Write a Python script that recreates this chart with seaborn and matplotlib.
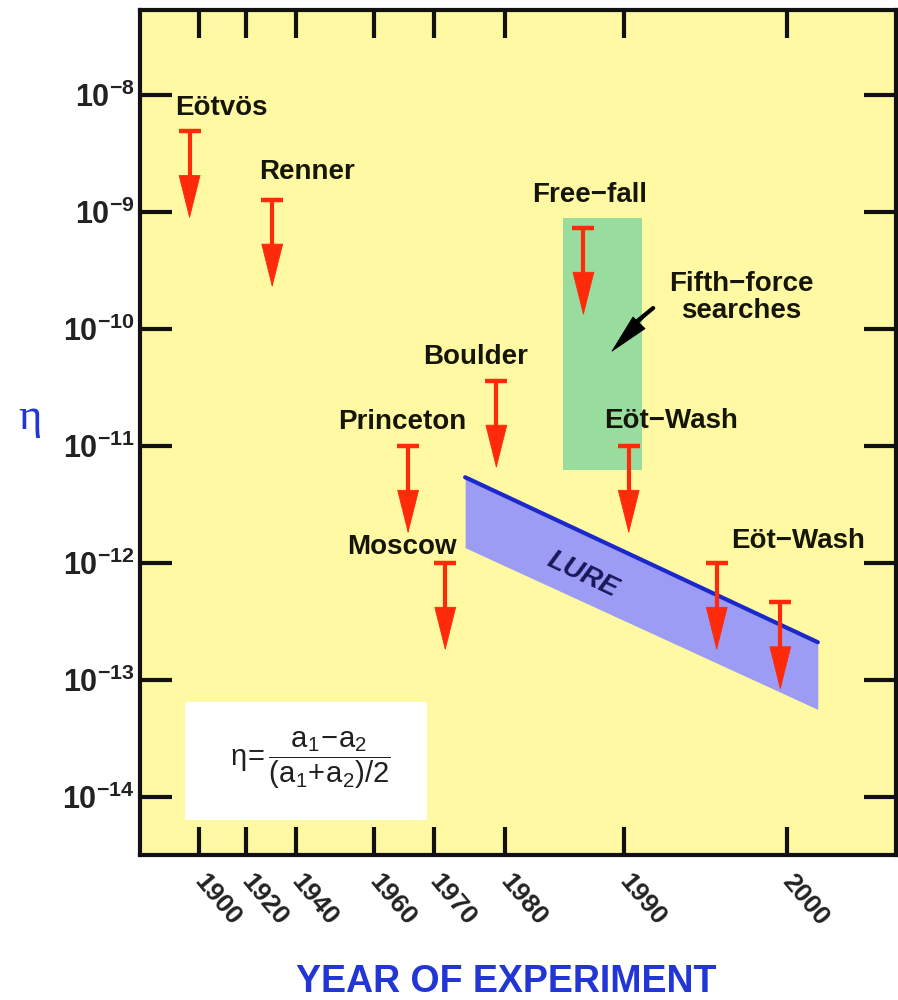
import numpy as np
import seaborn as sns
import matplotlib.pyplot as plt
from matplotlib.patches import Rectangle
from matplotlib.ticker import NullLocator
from matplotlib.transforms import ScaledTranslation

# upper limits on eta, one arrow per experiment
names = ['Eötvös', 'Renner', 'Princeton', 'Moscow', 'Boulder', 'Free−fall', 'Eöt−Wash', 'Eöt−Wash', 'Eöt−Wash']
years = [1896.0, 1930.5, 1965.7, 1971.6, 1978.8, 1986.6, 1990.3, 1995.7, 1999.6]
eta_limits = [4.9e-9, 1.27e-9, 1.0e-11, 1.0e-12, 3.6e-11, 7.3e-10, 1.0e-11, 1.0e-12, 4.6e-13]

# LURE band (start and end of the projection)
lure_years = [1974.4, 2001.9]
lure_top = [5.4e-12, 2.1e-13]
lure_bottom = [1.35e-12, 5.6e-14]

# fifth-force searches region
fifth_years = [1984.9, 1991.1]
fifth_eta = [6.2e-12, 8.9e-10]

tick_years = [1900, 1920, 1940, 1960, 1970, 1980, 1990, 2000]
eta_ticks = [1e-8, 1e-9, 1e-10, 1e-11, 1e-12, 1e-13, 1e-14]
eta_ticklabels = [r'$\mathbf{10^{-8}}$', r'$\mathbf{10^{-9}}$', r'$\mathbf{10^{-10}}$', r'$\mathbf{10^{-11}}$',
                  r'$\mathbf{10^{-12}}$', r'$\mathbf{10^{-13}}$', r'$\mathbf{10^{-14}}$']

# the year axis of the original is stretched unevenly -> piecewise spacing knots
knot_years = [1850, 1900, 1920, 1940, 1960, 1970, 1980, 1990, 2000, 2050]
knot_pos = [81.5, 199, 246, 296, 374, 434, 505, 624, 787, 1602]

# where the experiment names sit
label_text = ['Eötvös', 'Renner', 'Free−fall', 'Boulder', 'Princeton', 'Moscow', 'Eöt−Wash', 'Eöt−Wash']
label_x = [1889.8, 1925.2, 1987.1, 1975.8, 1964.8, 1964.7, 1992.9, 2000.7]
label_y = [7.7e-9, 2.2e-9, 1.4e-9, 5.8e-11, 1.6e-11, 1.37e-12, 1.64e-11, 1.55e-12]
label_ha = ['left', 'left', 'center', 'center', 'center', 'center', 'center', 'center']

RED = '#ff2a0a'
BLUE = '#2236d6'
INK = '#161608'
ARROW_DEC = 0.75  # arrow length, in decades

sns.set_theme(style='ticks')
plt.rcParams['font.family'] = ['Liberation Sans', 'DejaVu Sans']
plt.rcParams['mathtext.fontset'] = 'custom'
plt.rcParams['mathtext.rm'] = 'Liberation Sans'
plt.rcParams['mathtext.it'] = 'Liberation Sans:italic'
plt.rcParams['mathtext.bf'] = 'Liberation Sans:bold'

fig = plt.figure(figsize=(8.98, 10), dpi=100)
ax = fig.add_axes([140 / 898, 0.145, 756 / 898, 0.845])
ax.set_facecolor('#fef9a2')

# fifth force box
ax.add_patch(Rectangle((fifth_years[0], fifth_eta[0]), fifth_years[1] - fifth_years[0],
                       fifth_eta[1] - fifth_eta[0], facecolor='#98dc9e', edgecolor='none', zorder=1))

# LURE band
ax.fill_between(lure_years, lure_bottom, lure_top, color='#9c9cf4', linewidth=0, zorder=2)
sns.lineplot(x=lure_years, y=lure_top, color='#1a28cc', linewidth=3, ax=ax, zorder=3)

# caps of the limit arrows
sns.scatterplot(x=years, y=eta_limits, marker='_', s=250, linewidth=3.2, color=RED, ax=ax, zorder=5)

ax.set_yscale('log')
ax.set_xscale('function', functions=(lambda x: np.interp(x, knot_years, knot_pos),
                                     lambda p: np.interp(p, knot_pos, knot_years)))
ax.set_xlim(1874.9, 2006.7)
ax.set_ylim(3.19e-15, 5.32e-8)

# shafts + pointed heads
tips = [lim * 10 ** -ARROW_DEC for lim in eta_limits]
ax.vlines(years, [lim * 10 ** -0.45 for lim in eta_limits], eta_limits, color=RED, linewidth=3, zorder=5)
for yr, lim, tip in zip(years, eta_limits, tips):
    ax.annotate('', xy=(yr, tip), xytext=(yr, lim),
                arrowprops=dict(arrowstyle='-|>,head_length=3.0,head_width=0.75', color=RED,
                                lw=0.6, shrinkA=0, shrinkB=0, mutation_scale=10), zorder=5)

for txt, x, y, ha in zip(label_text, label_x, label_y, label_ha):
    ax.text(x, y, txt, ha=ha, va='center', fontsize=20, fontweight='bold', color=INK, zorder=6)

# fifth-force pointer
ax.text(1997.2, 1.84e-10, 'Fifth−force\nsearches', ha='center', va='center', fontsize=20,
        fontweight='bold', color=INK, linespacing=1.05, zorder=6)
ax.plot([1991.8, 1990.6], [1.51e-10, 1.1e-10], color='black', lw=3, zorder=6)
ax.annotate('', xy=(1988.9, 6.3e-11), xytext=(1991.8, 1.51e-10),
            arrowprops=dict(arrowstyle='-|>,head_length=2.8,head_width=0.6', color='black',
                            lw=0.6, shrinkA=0, shrinkB=0, mutation_scale=10), zorder=6)

ax.text(1986.5, 7.9e-13, 'LURE', rotation=-25.3, ha='center', va='center', fontsize=20,
        fontweight='bold', fontstyle='italic', color='#17175a', zorder=6)

# formula box
ax.add_patch(Rectangle((0.0595, 0.0414), 0.320, 0.1396, transform=ax.transAxes,
                       facecolor='white', edgecolor='none', zorder=4))
ax.text(0.225, 0.112, r'$\mathrm{\eta}\!=\dfrac{\mathrm{a_1\!-\!a_2}}{\mathrm{(a_1\!+\!a_2)/2}}$',
        transform=ax.transAxes, ha='center', va='center', fontsize=21, color='#202020', zorder=6)

# axes cosmetics
ax.set_xticks(tick_years)
ax.set_xticklabels([str(t) for t in tick_years], rotation=-50, rotation_mode='anchor',
                   ha='left', va='center', fontsize=19, fontweight='bold', color='#222222')
shift = ScaledTranslation(-5 / 100, 2 / 100, fig.dpi_scale_trans)
for lab in ax.get_xticklabels():
    lab.set_transform(lab.get_transform() + shift)
ax.set_yticks(eta_ticks)
ax.set_yticklabels(eta_ticklabels, fontsize=22, color='#222222')
ax.xaxis.set_minor_locator(NullLocator())
ax.yaxis.set_minor_locator(NullLocator())
ax.tick_params(axis='both', direction='in', width=3, color='#111111',
               top=True, right=True, bottom=True, left=True)
ax.tick_params(axis='x', length=20, pad=16)
ax.tick_params(axis='y', length=23, pad=4)
for s in ax.spines.values():
    s.set_linewidth(3)
    s.set_color('#111111')
    s.set_visible(True)

ax.set_xlabel('YEAR OF EXPERIMENT', fontsize=27, fontweight='bold', color=BLUE)
ax.xaxis.set_label_coords(0.484, -0.129)
ax.set_ylabel('η', rotation=0, fontsize=32, color=BLUE, family=['Liberation Serif', 'DejaVu Serif'],
              ha='center', va='center')
ax.yaxis.set_label_coords(-0.1455, 0.517)

fig.savefig('out.png', dpi=100)
